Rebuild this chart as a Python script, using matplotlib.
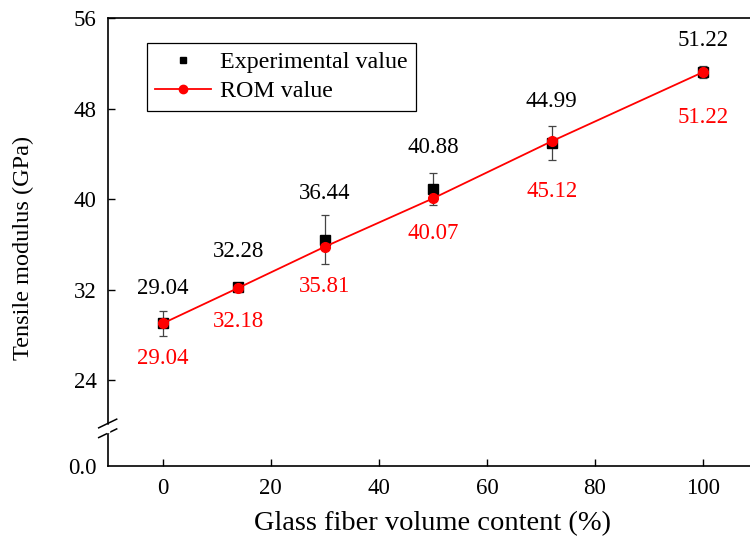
import matplotlib
matplotlib.use("Agg")
from matplotlib import pyplot as plt
from matplotlib.lines import Line2D

plt.rcParams["font.family"] = ["Liberation Serif", "DejaVu Serif"]

# data
fiber = [0, 14, 30, 50, 72, 100]
exp_val = [29.04, 32.28, 36.44, 40.88, 44.99, 51.22]
exp_err = [1.1, 0.3, 2.15, 1.4, 1.5, 0.55]
rom_val = [29.04, 32.18, 35.81, 40.07, 45.12, 51.22]
y_ticks = [24, 32, 40, 48, 56]
x_ticks = [0, 20, 40, 60, 80, 100]

# label offsets in points (above for experimental, below for ROM)
exp_off = [25, 25, 33, 30, 30, 23]
rom_off = [-25, -24, -29, -25, -36, -33]

W, H = 750, 543
fig = plt.figure(figsize=(W / 100, H / 100), dpi=100)
left = 107.7 / W
width = (757 - 107.7) / W
ax = fig.add_axes([left, 1 - 430 / H, width, (430 - 18) / H])
axb = fig.add_axes([left, 1 - 466 / H, width, 36 / H])

tick_kw = dict(direction="in", length=5, width=1.0, labelsize=16.5)

ax.errorbar(fiber, exp_val, yerr=exp_err, fmt="none", ecolor="#444444",
            elinewidth=0.9, capsize=3, capthick=0.9, zorder=2)
ax.plot(fiber, exp_val, "s", color="black", ms=7, zorder=3)
ax.plot(fiber, rom_val, "-o", color="red", lw=1.3, ms=7, zorder=4)

for x, y, o in zip(fiber, exp_val, exp_off):
    ax.annotate(f"{y:.2f}", (x, y), xytext=(0, o), textcoords="offset points",
                ha="center", va="center", fontsize=16.5, color="black")
for x, y, o in zip(fiber, rom_val, rom_off):
    ax.annotate(f"{y:.2f}", (x, y), xytext=(0, o), textcoords="offset points",
                ha="center", va="center", fontsize=16.5, color="red")

ax.set_xlim(-10.2, 110)
ax.set_ylim(19.63, 56)
ax.set_yticks(y_ticks)
ax.set_xticks([])
ax.spines["bottom"].set_visible(False)
for s in ax.spines.values():
    s.set_linewidth(1.2)
ax.tick_params(axis="y", pad=8, **tick_kw)

axb.set_xlim(-10.2, 110)
axb.set_ylim(0, 3.2)
axb.set_yticks([0])
axb.set_yticklabels(["0.0"])
axb.set_xticks(x_ticks)
axb.spines["top"].set_visible(False)
for s in axb.spines.values():
    s.set_linewidth(1.2)
axb.tick_params(axis="y", pad=8, length=0, labelsize=16.5)
axb.tick_params(axis="x", pad=9, **tick_kw)
axb.set_xlabel("Glass fiber volume content (%)", fontsize=20.5, labelpad=8)
ax.set_ylabel("Tensile modulus (GPa)", fontsize=17.5)
ax.yaxis.set_label_coords(-0.113, 0.442)

# axis break marks on the left spine
yb = 1 - 430 / H
for dy in (-0.006, 0.012):
    fig.add_artist(Line2D([left - 0.012, left + 0.012], [yb + dy - 0.008, yb + dy + 0.008],
                          color="black", lw=1.1))
fig.add_artist(Line2D([left, left], [yb - 0.002, yb + 0.008], color="white", lw=2.5))

handles = [
    Line2D([], [], ls="none", marker="s", color="black", ms=5),
    Line2D([], [], ls="-", marker="o", color="red", lw=1.3, ms=6),
]
leg = ax.legend(handles, ["Experimental value", "ROM value"], loc="upper left",
                bbox_to_anchor=(0.0605, 0.939), borderaxespad=0, fontsize=17.3,
                frameon=True, fancybox=False, edgecolor="black", framealpha=1,
                handlelength=2.3, handletextpad=0.4, borderpad=0.35,
                labelspacing=0.3)
leg.get_frame().set_linewidth(0.9)

fig.savefig("out.png", dpi=100)
